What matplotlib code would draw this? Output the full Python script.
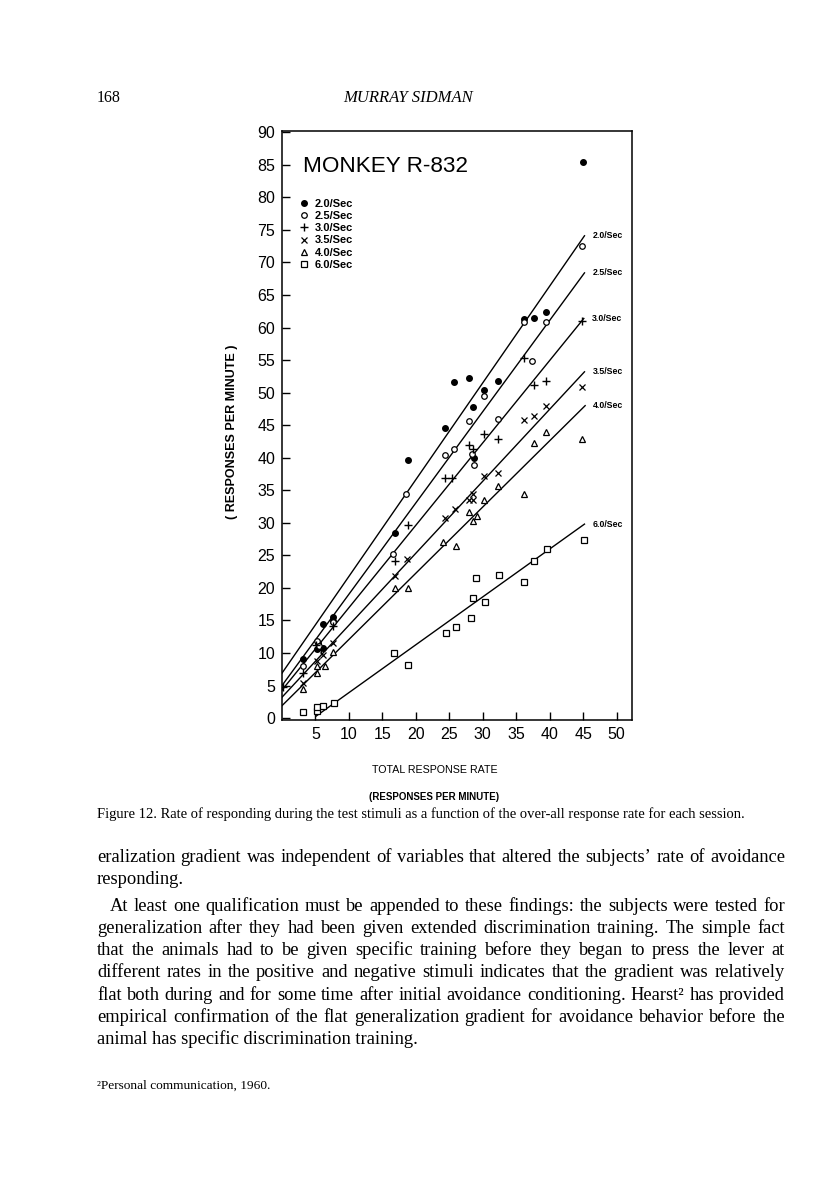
import matplotlib
matplotlib.use("Agg")
import matplotlib.pyplot as plt

W, H = 816, 1188

# ---- data (total rate vs. rate during each test stimulus)
rate_labels = ["2.0/Sec", "2.5/Sec", "3.0/Sec", "3.5/Sec", "4.0/Sec", "6.0/Sec"]

x_20 = [3.1, 5.2, 5.4, 6.1, 6.1, 7.6, 7.6, 16.9, 18.9, 24.3, 25.7, 28.0, 28.5, 28.7, 30.2, 32.3, 36.1, 37.6, 39.4, 45.0]
y_20 = [9.1, 10.6, 11.5, 10.7, 14.5, 15.5, 14.9, 28.5, 39.6, 44.5, 51.7, 52.3, 47.8, 40.0, 50.4, 51.8, 61.3, 61.4, 62.4, 85.5]

x_25 = [3.1, 5.3, 5.6, 7.6, 16.6, 18.6, 24.3, 25.7, 28.0, 28.4, 28.7, 30.2, 32.3, 36.1, 37.4, 39.4, 44.8]
y_25 = [8.0, 11.9, 11.0, 14.7, 25.2, 34.4, 40.4, 41.4, 45.6, 40.6, 38.9, 49.5, 46.0, 60.8, 54.9, 60.8, 72.5]

x_30 = [0.2, 3.1, 5.1, 5.8, 7.6, 16.9, 18.9, 24.3, 25.4, 28.0, 28.5, 30.2, 32.3, 36.1, 37.6, 39.5, 44.8]
y_30 = [4.7, 6.9, 11.3, 10.5, 14.2, 24.1, 29.6, 36.9, 36.9, 42.0, 41.4, 43.6, 42.9, 55.3, 51.1, 51.8, 61.0]

x_35 = [3.1, 5.3, 6.1, 7.6, 16.9, 18.7, 24.4, 25.9, 28.0, 28.6, 28.5, 30.2, 32.3, 36.1, 37.6, 39.5, 44.9]
y_35 = [5.4, 8.8, 9.7, 11.5, 21.8, 24.4, 30.7, 32.1, 33.5, 33.5, 34.5, 37.2, 37.7, 45.8, 46.4, 47.9, 50.9]

x_40 = [3.1, 5.3, 5.3, 6.4, 7.6, 16.9, 18.9, 24.0, 26.0, 28.0, 28.6, 29.1, 30.2, 32.3, 36.2, 37.6, 39.4, 44.9]
y_40 = [4.5, 6.9, 8.0, 8.0, 10.2, 20.0, 20.0, 27.0, 26.4, 31.6, 30.3, 31.0, 33.5, 35.7, 34.5, 42.3, 43.9, 42.9]

x_60 = [3.2, 5.3, 5.3, 6.1, 7.8, 16.8, 18.9, 24.5, 26.0, 28.2, 28.5, 29.0, 30.4, 32.5, 36.1, 37.7, 39.6, 45.1]
y_60 = [1.0, 1.1, 1.7, 1.8, 2.3, 10.0, 8.2, 13.0, 14.0, 15.3, 18.5, 21.5, 17.9, 22.0, 20.9, 24.1, 25.9, 27.4]

# fitted lines: start and end points
fit_x0 = [0.0, 0.0, 0.0, 0.0, 0.0, 5.1]
fit_y0 = [6.9, 5.0, 4.3, 3.2, 1.9, 0.3]
fit_x1 = [45.2, 45.2, 45.1, 45.2, 45.3, 45.2]
fit_y1 = [74.1, 68.4, 61.4, 53.2, 48.0, 29.8]

xs = [x_20, x_25, x_30, x_35, x_40, x_60]
ys = [y_20, y_25, y_30, y_35, y_40, y_60]

SANS = "Liberation Sans"
SERIF = "Liberation Serif"

fig = plt.figure(figsize=(W / 100, H / 100), dpi=100)
fig.patch.set_facecolor("white")

# axes box in pixel coords of the page
left, right, top, bottom = 282, 632, 131, 720
ax = fig.add_axes([left / W, 1 - bottom / H, (right - left) / W, (bottom - top) / H])

# marker styles
styles = [
    dict(marker="o", ms=4.0, mfc="black", mec="black"),
    dict(marker="o", ms=4.0, mfc="white", mec="black", mew=0.9),
    dict(marker="+", ms=6.0, mec="black", mew=1.0),
    dict(marker="x", ms=4.0, mec="black", mew=0.9),
    dict(marker="^", ms=4.5, mfc="white", mec="black", mew=0.9),
    dict(marker="s", ms=4.8, mfc="white", mec="black", mew=0.9),
]

handles = []
for x, y, st, lab in zip(xs, ys, styles, rate_labels):
    h, = ax.plot(x, y, ls="none", label=lab, zorder=3, **st)
    handles.append(h)

for i in range(len(rate_labels)):
    ax.plot([fit_x0[i], fit_x1[i]], [fit_y0[i], fit_y1[i]], color="black", lw=1.0, zorder=2)
    ax.text(fit_x1[i] + 1.2, fit_y1[i], rate_labels[i], fontsize=6.3, fontweight="bold",
            family=SANS, ha="left", va="center")

ax.set_xlim(0, 52.3)
ax.set_ylim(-0.3, 90.2)
ax.set_xticks(range(5, 55, 5))
ax.set_yticks(range(0, 95, 5))
ax.tick_params(direction="in", length=6, width=1.0, labelsize=11.5, pad=5)
for lab in ax.get_xticklabels() + ax.get_yticklabels():
    lab.set_family(SANS)
for sp in ax.spines.values():
    sp.set_linewidth(1.1)

ax.text(0.06, 0.94, "MONKEY R-832", transform=ax.transAxes, fontsize=16.2,
        family=SANS, ha="left", va="center")

ax.legend(handles=handles, loc="upper left", bbox_to_anchor=(0.046, 0.885),
          frameon=False, borderpad=0, borderaxespad=0, handlelength=1.0,
          handletextpad=0.5, labelspacing=0.2,
          prop=dict(family=SANS, size=8, weight="bold"))

fig.text(232 / W, 1 - 432 / H, "( RESPONSES PER MINUTE )", rotation=90, fontsize=9,
         fontweight="bold", family=SANS, ha="center", va="center")
fig.text(435 / W, 1 - 770 / H, "TOTAL RESPONSE RATE", fontsize=7.7, family=SANS,
         ha="center", va="center")
fig.text(434 / W, 1 - 797 / H, "(RESPONSES PER MINUTE)", fontsize=7, fontweight="bold",
         family=SANS, ha="center", va="center")

# ---- page text
fig.text(97 / W, 1 - 102 / H, "168", fontsize=11.5, family=SERIF, va="baseline")
fig.text(408 / W, 1 - 102 / H, "MURRAY SIDMAN", fontsize=12, family=SERIF,
         style="italic", ha="center", va="baseline")

fig.text(421 / W, 1 - 818 / H,
         "Figure 12. Rate of responding during the test stimuli as a function of the "
         "over-all response rate for each session.",
         fontsize=10.5, family=SERIF, ha="center", va="baseline")

renderer = fig.canvas.get_renderer()


def justify(line, x0, x1, ybase, size):
    words = line.split()
    texts = [fig.text(0, 1 - ybase / H, w, fontsize=size, family=SERIF, va="baseline")
             for w in words]
    widths = [t.get_window_extent(renderer).width for t in texts]
    gap = (x1 - x0 - sum(widths)) / max(len(words) - 1, 1)
    x = x0
    for t, wd in zip(texts, widths):
        t.set_x(x / W)
        x += wd + gap


def plain(line, x0, ybase, size):
    fig.text(x0 / W, 1 - ybase / H, line, fontsize=size, family=SERIF, va="baseline")


body = 13.3
justify("eralization gradient was independent of variables that altered the subjects\u2019 rate of avoidance",
        97, 785, 862, body)
plain("responding.", 97, 884, body)
justify("At least one qualification must be appended to these findings: the subjects were tested for",
        110, 785, 911, body)
justify("generalization after they had been given extended discrimination training. The simple fact",
        97, 785, 933, body)
justify("that the animals had to be given specific training before they began to press the lever at",
        97, 785, 955, body)
justify("different rates in the positive and negative stimuli indicates that the gradient was relatively",
        97, 785, 977, body)
justify("flat both during and for some time after initial avoidance conditioning. Hearst\u00b2 has provided",
        97, 785, 1000, body)
justify("empirical confirmation of the flat generalization gradient for avoidance behavior before the",
        97, 785, 1022, body)
plain("animal has specific discrimination training.", 97, 1044, body)

plain("\u00b2Personal communication, 1960.", 97, 1089, 9.6)

fig.savefig("out.png", dpi=100)
